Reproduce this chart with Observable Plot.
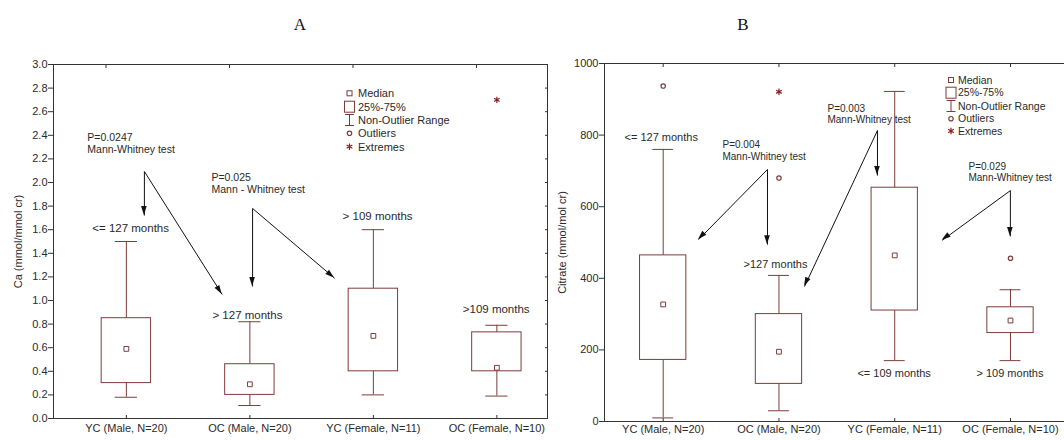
<!DOCTYPE html>
<html><head><meta charset="utf-8">
<script src="https://cdn.jsdelivr.net/npm/d3@7"></script>
<script src="https://cdn.jsdelivr.net/npm/@observablehq/plot@0.6"></script>
<style>
html,body{margin:0;padding:0;background:#fff;overflow:hidden;}
#wrap{position:relative;width:1064px;height:440px;overflow:hidden;}
#titles{position:relative;height:40px;font-family:"Liberation Serif","Times New Roman",serif;font-size:17px;color:#111;}
#titles span{position:absolute;top:15px;line-height:20px;transform:translateX(-50%);}
#panels{position:relative;height:400px;}
#pa{position:absolute;left:0;top:0;width:552px;}
#pb{position:absolute;left:552px;top:0;width:530px;}
svg{overflow:visible;max-width:none !important;}
</style></head>
<body>
<div id="wrap">
  <div id="titles"><span style="left:300px">A</span><span style="left:743px">B</span></div>
  <div id="panels"><div id="pa"></div><div id="pb"></div></div>
</div>
<script>
// ---------- data ----------
const groups = ["YC (Male, N=20)", "OC (Male, N=20)", "YC (Female, N=11)", "OC (Female, N=10)"];

// Panel A: Ca (mmol/mmol cr)
const caLow    = [0.18, 0.11, 0.20, 0.19];
const caQ1     = [0.30, 0.20, 0.40, 0.40];
const caMedian = [0.59, 0.29, 0.70, 0.43];
const caQ3     = [0.85, 0.46, 1.10, 0.73];
const caHigh   = [1.50, 0.82, 1.60, 0.79];
const caOutlierGroup = [];
const caOutlierValue = [];
const caExtremeGroup = ["OC (Female, N=10)"];
const caExtremeValue = [2.70];
const caYTicks = [0, 0.2, 0.4, 0.6, 0.8, 1.0, 1.2, 1.4, 1.6, 1.8, 2.0, 2.2, 2.4, 2.6, 2.8, 3.0];

// Panel B: Citrate (mmol/mol cr)
const citLow    = [10, 30, 170, 170];
const citQ1     = [172, 105, 310, 247];
const citMedian = [327, 195, 464, 282];
const citQ3     = [464, 300, 653, 319];
const citHigh   = [760, 408, 922, 368];
const citOutlierGroup = ["YC (Male, N=20)", "OC (Male, N=20)", "OC (Female, N=10)"];
const citOutlierValue = [937, 680, 456];
const citExtremeGroup = ["OC (Male, N=20)"];
const citExtremeValue = [921];
const citYTicks = [0, 200, 400, 600, 800, 1000];

// annotations (group-index units on x, value units on y)
const caPText = ["P=0.0247\nMann-Whitney test", "P=0.025\nMann - Whitney test"];
const caPX = [-0.316, 0.689];
const caPY = [2.331, 1.996];
const caMonthText = ["<= 127 months", "> 127 months", "> 109 months", ">109 months"];
const caMonthX = [-0.276, 0.697, 1.751, 2.724];
const caMonthY = [1.61, 0.873, 1.712, 0.924];
const caArrowX1 = [0.146, 0.146, 1.022, 1.022];
const caArrowY1 = [2.093, 2.093, 1.78, 1.78];
const caArrowX2 = [0.146, 0.776, 1.022, 1.686];
const caArrowY2 = [1.72, 1.051, 1.119, 1.189];

const citPText = ["P=0.004\nMann-Whitney test", "P=0.003\nMann-Whitney test", "P=0.029\nMann-Whitney test"];
const citPX = [0.512, 1.419, 2.637];
const citPY = [758, 859, 698];
const citMonthText = ["<= 127 months", ">127 months", "<= 109 months", "> 109 months"];
const citMonthX = [-0.334, 0.694, 1.678, 2.706];
const citMonthY = [793, 438, 134, 134];
const citArrowX1 = [0.901, 0.901, 1.851, 1.851, 2.999, 2.999];
const citArrowY1 = [704, 704, 813, 813, 645, 645];
const citArrowX2 = [0.901, 0.305, 1.851, 1.221, 2.999, 2.41];
const citArrowY2 = [494, 508, 687, 377, 517, 506];

const legendLabels = ["Median", "25%-75%", "Non-Outlier Range", "Outliers", "Extremes"];

// ---------- helpers ----------
const BOX = "#7e3b3b";
const EXT = "#8b1f1f";
const INK = "#2a2a2a";
const FONT = 'Arial, "Liberation Sans", sans-serif';

function rowsOf(lo, q1, med, q3, hi) {
  return groups.map((g, i) => ({i, group: g, lo: lo[i], q1: q1[i], med: med[i], q3: q3[i], hi: hi[i]}));
}
function pointsOf(gs, vs) {
  return gs.map((g, k) => ({i: groups.indexOf(g), value: vs[k]}));
}
function arrowsOf(x1, y1, x2, y2) {
  return x1.map((_, k) => ({x1: x1[k], y1: y1[k], x2: x2[k], y2: y2[k]}));
}
function notesOf(t, x, y) {
  return t.map((s, k) => ({text: s, x: x[k], y: y[k]}));
}
function arrowHeads(arrows, len, half) {
  return (index, scales) => {
    const g = d3.create("svg:g").attr("fill", "#111");
    for (const a of arrows) {
      const ax = scales.x(a.x1), ay = scales.y(a.y1), bx = scales.x(a.x2), by = scales.y(a.y2);
      const dx = bx - ax, dy = by - ay, L = Math.hypot(dx, dy), ux = dx / L, uy = dy / L;
      const cx = bx - ux * len, cy = by - uy * len, px = -uy, py = ux;
      g.append("path").attr("d", `M${bx},${by}L${cx + px * half},${cy + py * half}L${cx - px * half},${cy - py * half}Z`);
    }
    return g.node();
  };
}
function legendMark(symX, textX, rowsY, fontSize) {
  return () => {
    const g = d3.create("svg:g");
    const s = g.append("g").attr("stroke", BOX).attr("fill", "none").attr("stroke-width", 1);
    s.append("rect").attr("x", symX - 2.5).attr("y", rowsY[0] - 2.5).attr("width", 5).attr("height", 5);
    s.append("rect").attr("x", symX - 5).attr("y", rowsY[1] - 5.5).attr("width", 10).attr("height", 11);
    s.append("path").attr("d", `M${symX - 4.5},${rowsY[2] - 5.5}H${symX + 4.5}M${symX},${rowsY[2] - 5.5}V${rowsY[2] + 5.5}M${symX - 4.5},${rowsY[2] + 5.5}H${symX + 4.5}`);
    s.append("circle").attr("cx", symX).attr("cy", rowsY[3]).attr("r", 2.2).attr("stroke-width", 1.2);
    g.append("path").attr("transform", `translate(${symX},${rowsY[4]})`)
      .attr("d", d3.symbol(d3.symbolAsterisk, 30)()).attr("stroke", EXT).attr("stroke-width", 1.2).attr("fill", "none");
    legendLabels.forEach((t, k) => {
      g.append("text").attr("x", textX).attr("y", rowsY[k]).attr("dy", "0.36em")
        .attr("text-anchor", "start")
        .attr("font-size", fontSize).attr("fill", INK).attr("font-family", FONT).text(t);
    });
    return g.node();
  };
}
function boxMarks(rows, boxHalf, capHalf) {
  return [
    Plot.ruleX(rows, {x: "i", y1: "q3", y2: "hi", stroke: BOX}),
    Plot.ruleX(rows, {x: "i", y1: "lo", y2: "q1", stroke: BOX}),
    Plot.ruleY(rows, {y: "hi", x1: d => d.i - capHalf, x2: d => d.i + capHalf, stroke: BOX}),
    Plot.ruleY(rows, {y: "lo", x1: d => d.i - capHalf, x2: d => d.i + capHalf, stroke: BOX}),
    Plot.rect(rows, {x1: d => d.i - boxHalf, x2: d => d.i + boxHalf, y1: "q1", y2: "q3", fill: "none", stroke: BOX}),
    Plot.dot(rows, {x: "i", y: "med", symbol: "square", r: 2.7, stroke: BOX, fill: "white", strokeWidth: 1})
  ];
}

function panel(cfg) {
  const rows = rowsOf(...cfg.stats);
  const outliers = pointsOf(cfg.outG, cfg.outV);
  const extremes = pointsOf(cfg.extG, cfg.extV);
  const arrows = arrowsOf(...cfg.arrows);
  const pNotes = notesOf(...cfg.pNotes);
  const mNotes = notesOf(...cfg.mNotes);
  return Plot.plot({
    width: cfg.width, height: 400,
    marginTop: cfg.mt, marginBottom: cfg.mb, marginLeft: cfg.ml, marginRight: cfg.mr,
    style: {fontFamily: FONT, background: "white", overflow: "visible", maxWidth: "none"},
    x: {type: "linear", domain: cfg.xDomain},
    y: {type: "linear", domain: cfg.yDomain},
    marks: [
      Plot.frame({stroke: "#333", strokeWidth: 1}),
      Plot.axisY({ticks: cfg.yTicks, tickFormat: cfg.yFormat, tickSize: 5, tickPadding: 1, fontSize: 11, color: INK, stroke: "#333", label: null}),
      Plot.axisY({anchor: "right", ticks: cfg.yTicks, tickSize: -3, tickFormat: () => "", stroke: "#333", label: null}),
      Plot.axisX({ticks: [0, 1, 2, 3], tickFormat: i => groups[i], tickSize: 0, tickPadding: cfg.xPad, fontSize: 11, color: INK, label: null}),
      Plot.axisX({ticks: [0, 1, 2, 3], tickSize: -3, tickFormat: () => "", stroke: "#333", label: null}),
      Plot.axisX({anchor: "top", ticks: cfg.topTicks, tickSize: -3, tickFormat: () => "", stroke: "#333", label: null}),
      Plot.text([cfg.yLabel], {frameAnchor: "left", rotate: -90, dx: cfg.yLabelDx, textAnchor: "middle", fontSize: 11, fill: INK}),
      ...boxMarks(rows, 0.2, 0.09),
      Plot.dot(outliers, {x: "i", y: "value", r: 2.2, stroke: BOX, fill: "white", strokeWidth: 1.2}),
      Plot.dot(extremes, {x: "i", y: "value", symbol: "asterisk", r: 3, stroke: EXT, strokeWidth: 1.2}),
      Plot.link(arrows, {x1: "x1", y1: "y1", x2: "x2", y2: "y2", stroke: "#111", strokeWidth: 1}),
      arrowHeads(arrows, 9, 2.8),
      Plot.text(pNotes, {x: "x", y: "y", text: "text", textAnchor: "start", lineAnchor: "middle", lineHeight: 1.15, fontSize: cfg.pSize, fill: INK}),
      Plot.text(mNotes, {x: "x", y: "y", text: "text", textAnchor: "start", fontSize: cfg.mSize, fill: INK}),
      legendMark(cfg.legX, cfg.legTX, cfg.legY, cfg.legSize)
    ]
  });
}

document.getElementById("pa").append(panel({
  width: 552, mt: 24, mb: 22, ml: 53, mr: 5,
  xDomain: [-0.59, 3.41], yDomain: [0, 3],
  yTicks: caYTicks, yFormat: d3.format(".1f"), xPad: 6,
  topTicks: [-0.165, 0.835, 1.835, 2.835],
  yLabel: "Ca (mmol/mmol cr)", yLabelDx: -35,
  stats: [caLow, caQ1, caMedian, caQ3, caHigh],
  outG: caOutlierGroup, outV: caOutlierValue, extG: caExtremeGroup, extV: caExtremeValue,
  arrows: [caArrowX1, caArrowY1, caArrowX2, caArrowY2],
  pNotes: [caPText, caPX, caPY], mNotes: [caMonthText, caMonthX, caMonthY],
  pSize: 10.5, mSize: 11.5,
  legX: 349.5, legTX: 358, legY: [53.3, 66.7, 80, 93.3, 106.7], legSize: 11
}));

document.getElementById("pb").append(panel({
  width: 530, mt: 23, mb: 19, ml: 52, mr: 0,
  xDomain: [-0.507, 3.622], yDomain: [0, 1000],
  yTicks: citYTicks, yFormat: d3.format("d"), xPad: 4,
  topTicks: [0, 1, 2, 3],
  yLabel: "Citrate (mmol/mol cr)", yLabelDx: -42,
  stats: [citLow, citQ1, citMedian, citQ3, citHigh],
  outG: citOutlierGroup, outV: citOutlierValue, extG: citExtremeGroup, extV: citExtremeValue,
  arrows: [citArrowX1, citArrowY1, citArrowX2, citArrowY2],
  pNotes: [citPText, citPX, citPY], mNotes: [citMonthText, citMonthX, citMonthY],
  pSize: 10, mSize: 11,
  legX: 399, legTX: 406, legY: [40, 52.7, 66, 78.7, 91], legSize: 10.5
}));
</script>
</body></html>
